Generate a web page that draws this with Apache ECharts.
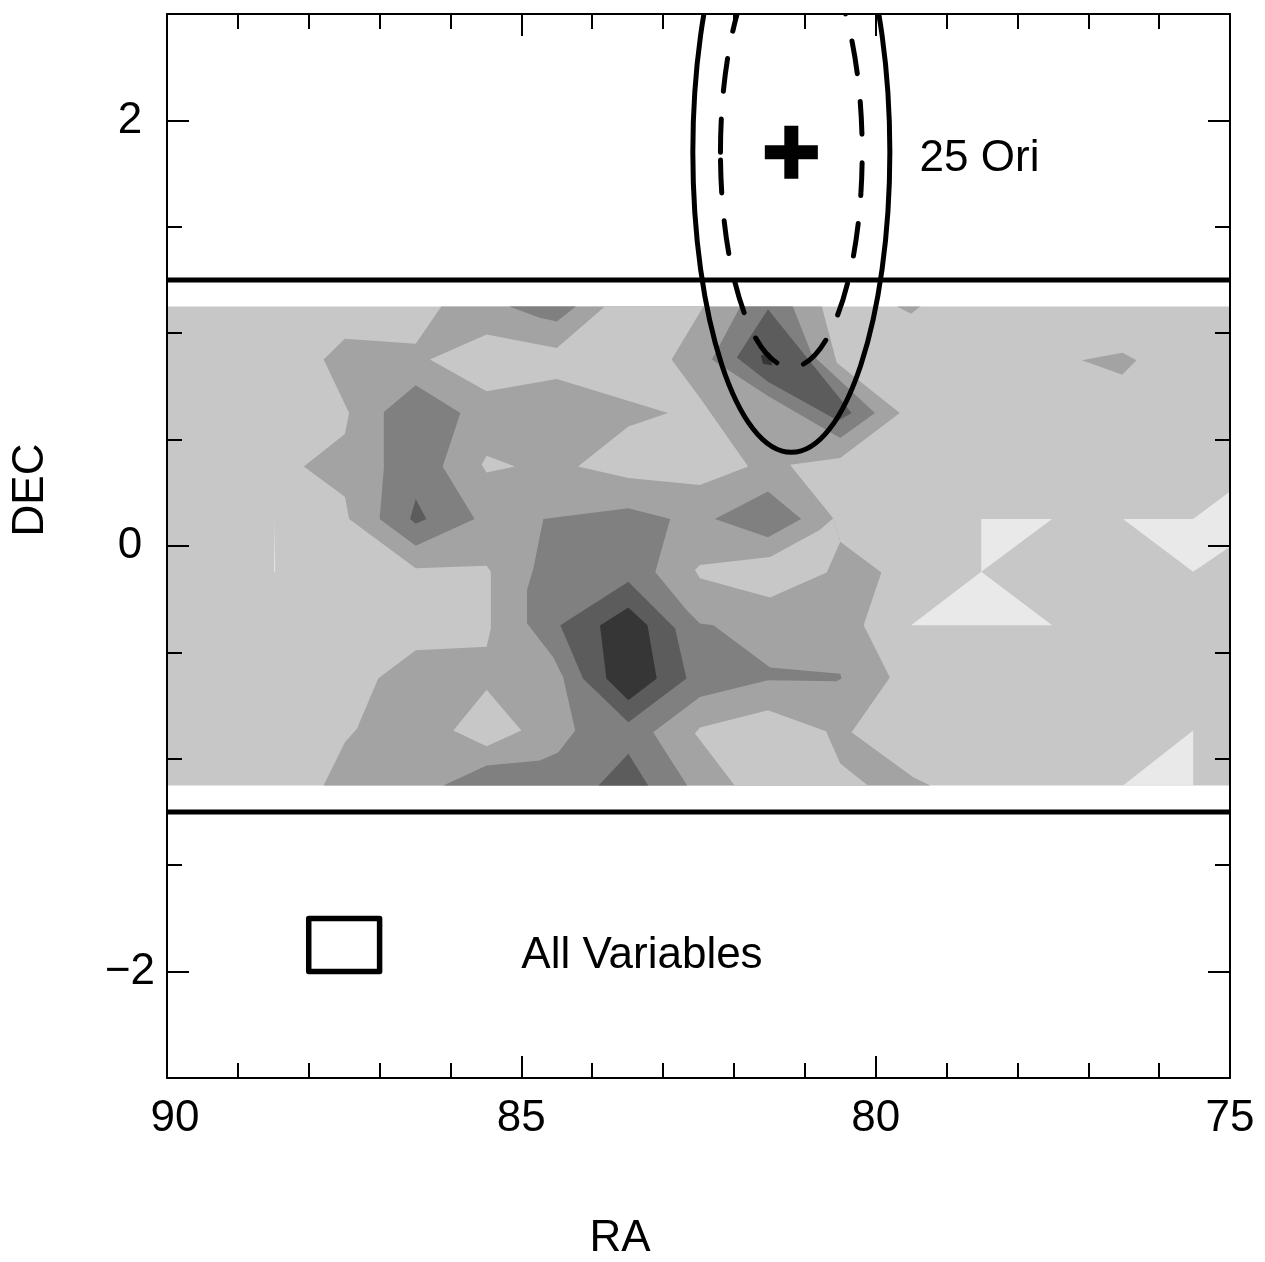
<!DOCTYPE html>
<html>
<head>
<meta charset="utf-8">
<script src="https://cdn.jsdelivr.net/npm/echarts@6/dist/echarts.min.js"></script>
<style>
  html, body { margin: 0; padding: 0; background: #fff; }
  #chart { width: 1265px; height: 1262px; }
</style>
</head>
<body>
<div id="chart"></div>
<script>
// ---- axes ----
const raRange = [75, 90];          // RA axis, drawn decreasing to the right
const decRange = [-2.5, 2.5];
const raMajorStep = 5;
const decMinorStep = 0.5;
const decLabelTicks = [-2, 2];     // labelled DEC span (every 2 deg)
const decLabelStep = 2;

// ---- survey strip limits ----
const stripLimits = [1.25, -1.25];

// ---- 25 Ori group position and error ellipses (RA, DEC in deg) ----
const groupCenter = [81.19, 1.85];
const outerSemiAxes = [1.39, 1.41];
const innerSemiAxes = [1.0, 1.01];
const groupLabel = ['25 Ori', 79.38, 1.82];

// ---- legend box ----
const legendBox = [[88, -1.75], [87, -1.75], [87, -2.0], [88, -2.0]];
const legendLabel = ['All Variables', 85.0, -1.924];

// ---- surface density of variables: filled contour bands (RA, DEC vertices) ----
const mapStrip = [[[90, 1.125], [75, 1.125], [75, -1.125], [90, -1.125]]];

const bandLowest = [
  [[78.51, 0.127], [77.51, 0.127], [78.51, -0.121]],
  [[79.50, -0.372], [78.51, -0.121], [77.51, -0.372]],
  [[76.51, 0.127], [75.52, 0.127], [75.0, 0.256], [75.0, -0.003], [75.52, -0.121]],
  [[76.51, -1.125], [75.52, -0.867], [75.52, -1.125]],
  [[88.48, 0.127], [88.474, -0.121], [88.488, -0.121]]
];

const bandMid = [
  [[86.13, 1.125], [80.76, 1.125], [80.55, 0.861], [79.66, 0.625], [80.50, 0.413], [81.21, 0.382],
   [80.60, 0.130], [80.50, 0.020], [79.92, -0.124], [80.17, -0.372], [79.80, -0.618], [80.34, -0.875],
   [79.47, -1.087], [79.23, -1.125], [87.79, -1.125], [87.49, -0.922], [87.32, -0.859], [87.02, -0.623],
   [86.49, -0.490], [85.49, -0.474], [85.43, -0.388], [85.43, -0.121], [85.49, -0.093], [86.49, -0.105],
   [87.43, 0.127], [87.49, 0.232], [88.07, 0.374], [87.49, 0.526], [87.43, 0.625], [87.79, 0.876],
   [87.49, 0.974], [86.49, 0.950]],
  [[79.70, 1.125], [79.37, 1.125], [79.50, 1.091]],
  [[77.09, 0.873], [76.52, 0.908], [76.32, 0.873], [76.52, 0.805]]
];

// low-density gaps inside the middle band
const bandMidGaps = [
  [[86.29, 0.876], [85.49, 0.994], [84.50, 0.931], [83.82, 1.125], [82.43, 1.125], [82.88, 0.876],
   [82.48, 0.697], [81.80, 0.374], [82.48, 0.287], [83.49, 0.319], [84.20, 0.374], [83.49, 0.562],
   [82.93, 0.625], [84.50, 0.785], [85.49, 0.727]],
  [[82.55, -0.113], [82.48, -0.089], [81.49, -0.052], [80.79, 0.075], [80.60, 0.130], [80.50, 0.020],
   [80.69, -0.124], [81.49, -0.242], [82.48, -0.152]],
  [[81.99, -1.125], [82.55, -0.881], [82.48, -0.853], [81.52, -0.772], [80.70, -0.871], [80.50, -1.022],
   [80.11, -1.125]],
  [[85.56, 0.382], [85.49, 0.424], [85.09, 0.374], [85.49, 0.345]],
  [[85.96, -0.867], [85.49, -0.675], [85.00, -0.867], [85.49, -0.941]]
];

const bandHigh = [
  [[85.17, 1.125], [84.74, 1.073], [84.50, 1.055], [84.23, 1.125]],
  [[86.49, 0.755], [86.94, 0.630], [86.94, 0.366], [87.00, 0.127], [86.49, 0.001], [85.66, 0.127],
   [86.11, 0.374], [85.86, 0.625]],
  [[84.69, 0.127], [83.49, 0.177], [82.90, 0.127], [83.11, -0.122], [82.67, -0.301], [82.48, -0.364],
   [82.29, -0.372], [81.49, -0.571], [80.50, -0.600], [80.48, -0.623], [80.55, -0.636], [81.52, -0.631],
   [82.48, -0.710], [83.14, -0.875], [82.66, -1.125], [86.10, -1.125], [85.49, -1.032], [84.74, -1.008],
   [84.48, -0.970], [84.24, -0.867], [84.41, -0.617], [84.55, -0.523], [84.92, -0.363], [84.92, -0.207],
   [84.83, -0.104]],
  [[82.27, 0.127], [81.52, 0.256], [81.05, 0.127], [81.52, 0.041]],
  [[82.31, 0.876], [81.91, 1.125], [81.17, 1.125], [80.90, 0.900], [80.01, 0.625], [80.50, 0.507],
   [81.52, 0.705]]
];

const bandHigher = [
  [[86.49, 0.221], [86.57, 0.127], [86.49, 0.104], [86.34, 0.127]],
  [[84.45, -0.372], [83.49, -0.168], [82.83, -0.388], [82.67, -0.623], [83.49, -0.828], [84.13, -0.623]],
  [[83.91, -1.125], [83.49, -0.976], [83.21, -1.125]],
  [[81.96, 0.886], [81.52, 1.112], [80.34, 0.625], [80.53, 0.589], [81.52, 0.772]]
];

const bandPeak = [
  [[83.89, -0.374], [83.49, -0.289], [83.22, -0.372], [83.09, -0.623], [83.49, -0.725], [83.80, -0.623]],
  [[81.62, 0.895], [81.49, 0.909], [81.46, 0.848], [81.59, 0.857]]
];

// ---- drawing ----
const FONT = '"Liberation Sans", Arial, Helvetica, sans-serif';
const PLOT = { left: 167, top: 14, width: 1063, height: 1064 };
const pxPerDec = PLOT.height / (decRange[1] - decRange[0]);

const layers = [
  [mapStrip, '#c7c7c7'],
  [bandLowest, '#e9e9e9'],
  [bandMid, '#a3a3a3'],
  [bandMidGaps, '#c7c7c7'],
  [bandHigh, '#808080'],
  [bandHigher, '#5c5c5c'],
  [bandPeak, '#363636']
];

function contourLayer(polys, color, order) {
  return {
    type: 'custom', xAxisIndex: 0, yAxisIndex: 0, z: 1, silent: true, clip: true,
    data: polys.map((p, i) => [p[0][0], p[0][1], i]),
    renderItem: (params, api) => {
      const pts = polys[api.value(2)].map(v => api.coord(v));
      return { type: 'polygon', z2: order, shape: { points: pts }, style: { fill: color } };
    }
  };
}

function ellipseSeries(semi, dashed) {
  return {
    type: 'custom', xAxisIndex: 0, yAxisIndex: 0, z: 4, silent: true, clip: true,
    data: [[groupCenter[0], groupCenter[1], semi[0], semi[1]]],
    renderItem: (params, api) => {
      const c = api.coord([api.value(0), api.value(1)]);
      const s = api.size([api.value(2), api.value(3)], [api.value(0), api.value(1)]);
      return {
        type: 'ellipse',
        shape: { cx: c[0], cy: c[1], rx: Math.abs(s[0]), ry: Math.abs(s[1]) },
        style: {
          fill: 'none', stroke: '#000', lineWidth: 5,
          lineDash: dashed ? [33, 28] : null, lineCap: dashed ? 'round' : 'butt'
        }
      };
    }
  };
}

function textSeries(item) {
  return {
    type: 'custom', xAxisIndex: 0, yAxisIndex: 0, z: 5, silent: true,
    data: [[item[1], item[2]]],
    renderItem: (params, api) => {
      const c = api.coord([api.value(0), api.value(1)]);
      return {
        type: 'text', x: c[0], y: c[1],
        style: { text: item[0], fill: '#000', fontSize: 44, fontFamily: FONT, align: 'left', verticalAlign: 'middle' }
      };
    }
  };
}

const lineStyleAxis = { color: '#000', width: 2 };
function xAx(pos, showLabel) {
  return {
    gridIndex: 0, type: 'value', min: raRange[0], max: raRange[1], interval: raMajorStep,
    inverse: true, position: pos, z: 10,
    axisLine: { show: true, onZero: false, lineStyle: lineStyleAxis },
    axisTick: { show: true, inside: true, length: 22, lineStyle: lineStyleAxis },
    minorTick: { show: true, splitNumber: 5, length: 15, lineStyle: lineStyleAxis },
    splitLine: { show: false }, minorSplitLine: { show: false },
    axisLabel: {
      show: showLabel, margin: 19, fontSize: 44, fontFamily: FONT, color: '#000',
      showMinLabel: true, showMaxLabel: true, hideOverlap: false,
      // the first label sits just inside the left corner
      formatter: v => (v === raRange[1] ? '{edge|' + v + '}' : String(v)),
      rich: { edge: { fontSize: 44, fontFamily: FONT, color: '#000', padding: [0, 0, 0, 16] } }
    }
  };
}
function yMinorAx(pos) {
  return {
    gridIndex: 0, type: 'value', min: decRange[0], max: decRange[1], interval: decMinorStep,
    position: pos, z: 10,
    axisLine: { show: true, onZero: false, lineStyle: lineStyleAxis },
    axisTick: { show: true, inside: true, length: 15, lineStyle: lineStyleAxis },
    splitLine: { show: false },
    axisLabel: { show: false }
  };
}
function yMajorAx(pos, showLabel) {
  return {
    gridIndex: 1, type: 'value', min: decLabelTicks[0], max: decLabelTicks[1], interval: decLabelStep,
    position: pos, z: 10,
    axisLine: { show: false, onZero: false },
    axisTick: { show: true, inside: true, length: 22, lineStyle: lineStyleAxis },
    splitLine: { show: false },
    axisLabel: {
      show: showLabel, margin: 37, align: 'center', fontSize: 44, fontFamily: FONT, color: '#000',
      showMinLabel: true, showMaxLabel: true,
      formatter: v => (v < 0 ? '\u2212' + Math.abs(v) : String(v))
    }
  };
}

const option = {
  animation: false,
  backgroundColor: '#fff',
  grid: [
    { left: PLOT.left, top: PLOT.top, width: PLOT.width, height: PLOT.height, outerBoundsMode: 'none' },
    {
      left: PLOT.left, width: PLOT.width, outerBoundsMode: 'none',
      top: PLOT.top + (decRange[1] - decLabelTicks[1]) * pxPerDec,
      height: (decLabelTicks[1] - decLabelTicks[0]) * pxPerDec
    }
  ],
  xAxis: [
    xAx('bottom', true),
    xAx('top', false),
    { gridIndex: 1, type: 'value', min: raRange[0], max: raRange[1], inverse: true, show: false }
  ],
  yAxis: [yMinorAx('left'), yMinorAx('right'), yMajorAx('left', true), yMajorAx('right', false)],
  graphic: [
    { type: 'text', x: 620, y: 1239, z: 20,
      style: { text: 'RA', fontSize: 44, fontFamily: FONT, fill: '#000', align: 'center', verticalAlign: 'middle' } },
    { type: 'text', x: 31, y: 490, rotation: Math.PI / 2, z: 20,
      style: { text: 'DEC', fontSize: 44, fontFamily: FONT, fill: '#000', align: 'center', verticalAlign: 'middle' } }
  ],
  series: [
    ...layers.map((l, i) => contourLayer(l[0], l[1], i)),
    ...stripLimits.map(d => ({
      type: 'line', xAxisIndex: 0, yAxisIndex: 0, z: 3, silent: true, symbol: 'none',
      data: [[raRange[1], d], [raRange[0], d]],
      lineStyle: { color: '#000', width: 5 }
    })),
    ellipseSeries(outerSemiAxes, false),
    ellipseSeries(innerSemiAxes, true),
    {
      type: 'scatter', xAxisIndex: 0, yAxisIndex: 0, z: 5, silent: true,
      symbol: 'path://M19.5,0h14v19.5h19.5v14h-19.5v19.5h-14v-19.5h-19.5v-14h19.5z',
      symbolSize: 53, itemStyle: { color: '#000', opacity: 1 },
      data: [groupCenter]
    },
    {
      type: 'custom', xAxisIndex: 0, yAxisIndex: 0, z: 5, silent: true,
      data: [legendBox[0]],
      renderItem: (params, api) => ({
        type: 'polygon',
        shape: { points: legendBox.map(p => api.coord(p)) },
        style: { fill: 'none', stroke: '#000', lineWidth: 5.5, lineJoin: 'round' }
      })
    },
    textSeries(groupLabel),
    textSeries(legendLabel)
  ]
};

const chart = echarts.init(document.getElementById('chart'), null, { renderer: 'canvas' });
chart.setOption(option);
</script>
</body>
</html>
